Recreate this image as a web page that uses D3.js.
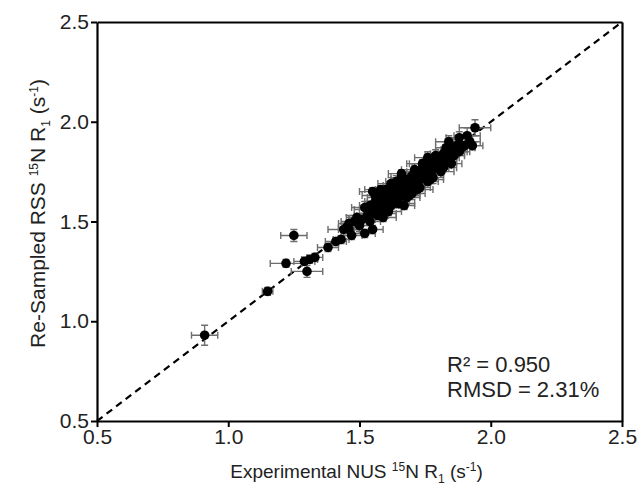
<!DOCTYPE html>
<html>
<head>
<meta charset="utf-8">
<script src="https://cdn.jsdelivr.net/npm/d3@7"></script>
<style>
  body { margin: 0; background: #fff; }
  text { font-family: "Liberation Sans", Arial, sans-serif; fill: #222; }
</style>
</head>
<body>
<div class="plot"></div>
<script>
// Experimental NUS R1 (x) vs re-sampled RSS R1 (y), with errors
const nusR1 = [0.91, 1.15, 1.25, 1.22, 1.30, 1.29, 1.31, 1.33, 1.38, 1.41, 1.43, 1.44, 1.46, 1.46, 1.45,
  1.48, 1.52, 1.55, 1.51, 1.53, 1.55, 1.59, 1.57, 1.55, 1.56, 1.58, 1.60, 1.61, 1.62, 1.63,
  1.64, 1.65, 1.66, 1.67, 1.66, 1.68, 1.69, 1.70, 1.71, 1.72, 1.73, 1.74, 1.75, 1.76, 1.77,
  1.78, 1.79, 1.80, 1.81, 1.82, 1.83, 1.84, 1.85, 1.86, 1.87, 1.88, 1.89, 1.91, 1.94, 1.92,
  1.57, 1.58, 1.59, 1.60, 1.61, 1.62, 1.63, 1.64, 1.65, 1.66, 1.67, 1.68, 1.69, 1.70, 1.71,
  1.72, 1.73, 1.74, 1.75, 1.76, 1.77, 1.78, 1.79, 1.80, 1.81, 1.82, 1.83, 1.84, 1.85, 1.86,
  1.87, 1.88, 1.90, 1.54, 1.53, 1.56, 1.57, 1.59, 1.60, 1.62, 1.64, 1.85, 1.93, 1.50, 1.49,
  1.52, 1.54, 1.56, 1.58, 1.60, 1.61, 1.63, 1.65, 1.67, 1.69, 1.71, 1.73, 1.75, 1.77, 1.79,
  1.81, 1.83, 1.58, 1.62, 1.66, 1.70, 1.74, 1.78, 1.82, 1.64, 1.68, 1.72, 1.76, 1.88, 1.47];
const rssR1 = [0.93, 1.15, 1.43, 1.29, 1.25, 1.30, 1.31, 1.32, 1.37, 1.40, 1.41, 1.46, 1.49, 1.46, 1.47,
  1.50, 1.44, 1.46, 1.51, 1.53, 1.54, 1.52, 1.58, 1.65, 1.60, 1.56, 1.58, 1.62, 1.60, 1.63,
  1.61, 1.66, 1.64, 1.58, 1.74, 1.67, 1.70, 1.68, 1.72, 1.70, 1.75, 1.73, 1.76, 1.82, 1.74,
  1.79, 1.77, 1.81, 1.78, 1.84, 1.80, 1.90, 1.86, 1.83, 1.88, 1.85, 1.87, 1.93, 1.97, 1.90,
  1.62, 1.60, 1.63, 1.61, 1.57, 1.65, 1.59, 1.66, 1.62, 1.68, 1.65, 1.71, 1.66, 1.73, 1.69,
  1.74, 1.71, 1.77, 1.72, 1.75, 1.78, 1.76, 1.80, 1.78, 1.82, 1.80, 1.85, 1.82, 1.84, 1.87,
  1.85, 1.89, 1.88, 1.58, 1.56, 1.55, 1.53, 1.59, 1.64, 1.58, 1.60, 1.79, 1.88, 1.48, 1.52,
  1.57, 1.50, 1.63, 1.54, 1.66, 1.55, 1.68, 1.59, 1.71, 1.63, 1.76, 1.67, 1.79, 1.71, 1.83,
  1.75, 1.87, 1.66, 1.69, 1.72, 1.64, 1.79, 1.72, 1.77, 1.70, 1.62, 1.66, 1.70, 1.92, 1.43];
const nusErr = [0.05, 0.02, 0.05, 0.06, 0.06, 0.04, 0.03, 0.03, 0.04, 0.04, 0.03, 0.06, 0.04, 0.04, 0.03,
  0.05, 0.04, 0.04, 0.05, 0.04, 0.05, 0.05, 0.04, 0.05, 0.04, 0.04, 0.05, 0.04, 0.04, 0.05,
  0.04, 0.05, 0.04, 0.04, 0.05, 0.04, 0.04, 0.05, 0.04, 0.04, 0.05, 0.04, 0.04, 0.05, 0.04,
  0.04, 0.05, 0.04, 0.04, 0.05, 0.04, 0.05, 0.04, 0.04, 0.04, 0.04, 0.05, 0.05, 0.06, 0.04,
  0.04, 0.05, 0.04, 0.04, 0.05, 0.04, 0.04, 0.05, 0.04, 0.04, 0.05, 0.04, 0.04, 0.05, 0.04,
  0.04, 0.05, 0.04, 0.04, 0.05, 0.04, 0.04, 0.05, 0.04, 0.04, 0.05, 0.04, 0.04, 0.05, 0.04,
  0.04, 0.05, 0.04, 0.04, 0.05, 0.04, 0.04, 0.05, 0.04, 0.04, 0.05, 0.04, 0.04, 0.05, 0.04,
  0.05, 0.04, 0.05, 0.06, 0.04, 0.05, 0.04, 0.06, 0.05, 0.04, 0.05, 0.04, 0.06, 0.05, 0.04,
  0.05, 0.04, 0.06, 0.05, 0.04, 0.05, 0.06, 0.04, 0.05, 0.04, 0.05, 0.06, 0.04, 0.05, 0.04];
const rssErr = [0.05, 0.02, 0.03, 0.02, 0.03, 0.02, 0.02, 0.02, 0.02, 0.02, 0.02, 0.03, 0.04, 0.02, 0.02,
  0.03, 0.02, 0.02, 0.03, 0.02, 0.02, 0.02, 0.02, 0.02, 0.02, 0.02, 0.03, 0.02, 0.02, 0.03,
  0.02, 0.02, 0.02, 0.02, 0.02, 0.03, 0.02, 0.02, 0.02, 0.03, 0.02, 0.02, 0.02, 0.03, 0.02,
  0.02, 0.03, 0.02, 0.02, 0.03, 0.02, 0.03, 0.02, 0.02, 0.03, 0.02, 0.02, 0.04, 0.04, 0.03,
  0.02, 0.03, 0.02, 0.02, 0.03, 0.02, 0.02, 0.03, 0.02, 0.02, 0.03, 0.02, 0.02, 0.03, 0.02,
  0.02, 0.03, 0.02, 0.02, 0.03, 0.02, 0.02, 0.03, 0.02, 0.02, 0.03, 0.02, 0.02, 0.03, 0.02,
  0.02, 0.03, 0.02, 0.02, 0.03, 0.02, 0.02, 0.03, 0.02, 0.02, 0.03, 0.02, 0.02, 0.03, 0.02,
  0.03, 0.02, 0.03, 0.02, 0.03, 0.02, 0.03, 0.02, 0.03, 0.02, 0.03, 0.02, 0.03, 0.02, 0.03,
  0.02, 0.03, 0.02, 0.03, 0.02, 0.03, 0.02, 0.03, 0.02, 0.03, 0.02, 0.03, 0.02, 0.03, 0.02];
const tickValues = [0.5, 1.0, 1.5, 2.0, 2.5];
const statLines = ["R² = 0.950", "RMSD = 2.31%"];

const W = 642, H = 492;
const margin = {top: 22, right: 20, bottom: 71, left: 97};
const w = W - margin.left - margin.right;
const h = H - margin.top - margin.bottom;

const svg = d3.select(".plot")
    .append("svg")
        .attr("width", W)
        .attr("height", H)
    .append("g")
        .attr("transform", "translate(" + margin.left + ", " + margin.top + ")");

const x = d3.scaleLinear().domain([0.5, 2.5]).range([0, w]);
const y = d3.scaleLinear().domain([0.5, 2.5]).range([h, 0]);

const data = nusR1.map((d, i) => ({x: d, y: rssR1[i], xe: nusErr[i], ye: rssErr[i]}));

// identity line
svg.append("line")
    .attr("x1", x(0.5)).attr("y1", y(0.5))
    .attr("x2", x(2.5)).attr("y2", y(2.5))
    .attr("stroke", "#000")
    .attr("stroke-width", 2.2)
    .attr("stroke-dasharray", "7,5");

// error bars
const cap = 3.5;
const eb = svg.append("g")
    .attr("stroke", "#6e6e6e")
    .attr("stroke-width", 1.4)
    .selectAll("g")
    .data(data)
    .enter()
    .append("g");

eb.append("path")
    .attr("fill", "none")
    .attr("d", d => {
        const x0 = x(d.x - d.xe), x1 = x(d.x + d.xe), cy = y(d.y);
        const y0 = y(d.y - d.ye), y1 = y(d.y + d.ye), cx = x(d.x);
        return `M${x0},${cy}H${x1}M${x0},${cy - cap}V${cy + cap}M${x1},${cy - cap}V${cy + cap}` +
               `M${cx},${y0}V${y1}M${cx - cap},${y0}H${cx + cap}M${cx - cap},${y1}H${cx + cap}`;
    });

// points
svg.append("g")
    .selectAll("circle")
    .data(data)
    .enter()
    .append("circle")
    .attr("cx", d => x(d.x))
    .attr("cy", d => y(d.y))
    .attr("r", 4.8)
    .attr("fill", "#000");

// axes
const xAxis = svg.append("g")
    .attr("transform", "translate(0," + h + ")")
    .call(d3.axisBottom(x).tickValues(tickValues).tickFormat(d3.format(".1f")).tickSize(6).tickPadding(2).tickSizeOuter(0));
const yAxis = svg.append("g")
    .call(d3.axisLeft(y).tickValues(tickValues).tickFormat(d3.format(".1f")).tickSize(6).tickPadding(2).tickSizeOuter(0));
const yAxisR = svg.append("g")
    .attr("transform", "translate(" + w + ",0)")
    .call(d3.axisRight(y).tickValues([]).tickSizeOuter(0));
const xAxisT = svg.append("g")
    .call(d3.axisTop(x).tickValues([]).tickSizeOuter(0));

[xAxis, yAxis, yAxisR, xAxisT].forEach(a => {
    a.selectAll(".domain").attr("stroke", "#000").attr("stroke-width", 2.2);
    a.selectAll(".tick line").attr("stroke", "#000").attr("stroke-width", 2);
    a.selectAll(".tick text").style("font-size", "21px").attr("fill", "#2a2a2a");
});

// axis titles
function title(sel, lead) {
    sel.append("tspan").text(lead);
    sel.append("tspan").text("15").style("font-size", "12px").attr("dy", -7);
    sel.append("tspan").text("N R").attr("dy", 7);
    sel.append("tspan").text("1").style("font-size", "12px").attr("dy", 5);
    sel.append("tspan").text(" (s").attr("dy", -5);
    sel.append("tspan").text("-1").style("font-size", "12px").attr("dy", -7);
    sel.append("tspan").text(")").attr("dy", 7);
}

svg.append("text")
    .attr("x", w / 2 - 3)
    .attr("y", h + 57)
    .attr("text-anchor", "middle")
    .style("font-size", "19px")
    .call(title, "Experimental NUS ");

svg.append("text")
    .attr("transform", "translate(-52," + (h / 2 - 8) + ") rotate(-90)")
    .attr("text-anchor", "middle")
    .style("font-size", "21px")
    .call(title, "Re-Sampled RSS ");

// stats
svg.append("g")
    .selectAll("text")
    .data(statLines)
    .enter()
    .append("text")
    .attr("x", 350)
    .attr("y", (d, i) => 350 + i * 25)
    .style("font-size", "22px")
    .text(d => d);
</script>
</body>
</html>
